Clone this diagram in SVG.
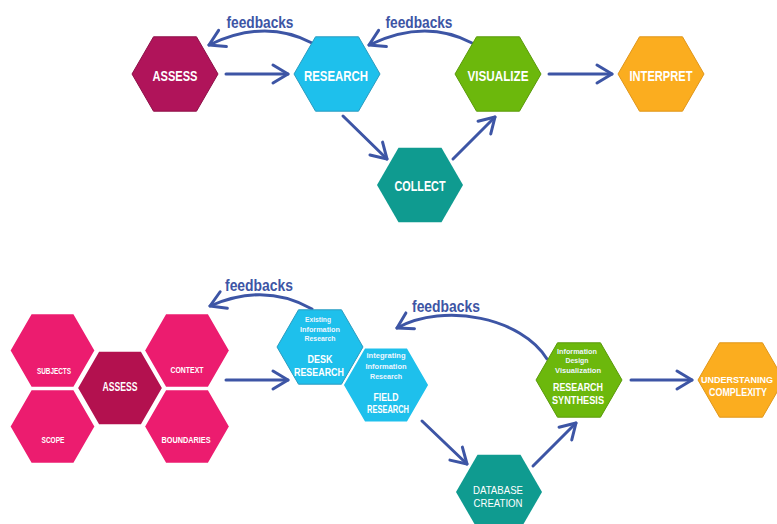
<svg xmlns="http://www.w3.org/2000/svg" xmlns:xlink="http://www.w3.org/1999/xlink" width="777" height="524" viewBox="0 0 777 524">
<style>
.lbl{font-family:"Liberation Sans",Arial,sans-serif;font-weight:bold;fill:#ffffff;text-anchor:middle}
.big{font-size:15px}
.mid{font-size:11.5px}
.sm{font-size:8.5px}
.tiny{font-size:8px;font-weight:bold;fill:#eef6ff}
.fb{font-family:"Liberation Sans",Arial,sans-serif;font-size:17px;font-weight:bold;fill:#3d55a5;text-anchor:middle}
.conn{fill:none;stroke:#3d55a5;stroke-width:3;stroke-linecap:round}
</style>
<defs>
<path id="hex" d="M-43,0 L-21.5,-37.2 L21.5,-37.2 L43,0 L21.5,37.2 L-21.5,37.2 Z"/>
<marker id="ah" markerUnits="userSpaceOnUse" viewBox="-20 -12 24 24" markerWidth="24" markerHeight="24" refX="0" refY="0" orient="auto">
<path d="M-15,-9 L0,0 L-15,9" fill="none" stroke="#3d55a5" stroke-width="3" stroke-linecap="round" stroke-linejoin="round"/>
</marker>
</defs>
<rect width="777" height="524" fill="#ffffff"/>

<g id="connectors">
<path class="conn" marker-end="url(#ah)" d="M226,74 L288,74"/>
<path class="conn" marker-end="url(#ah)" d="M312,43 Q265,18 209,45"/>
<path class="conn" marker-end="url(#ah)" d="M472,43 Q425,18 369,45"/>
<path class="conn" marker-end="url(#ah)" d="M343,116 L387,159"/>
<path class="conn" marker-end="url(#ah)" d="M453,159 L495,117"/>
<path class="conn" marker-end="url(#ah)" d="M549,74 L612,74"/>
<path class="conn" marker-end="url(#ah)" d="M226,380 L288,380"/>
<path class="conn" marker-end="url(#ah)" d="M312,309 Q265,282 210,306"/>
<path class="conn" marker-end="url(#ah)" d="M547,359 C522,318 445,302 397,328"/>
<path class="conn" marker-end="url(#ah)" d="M422,421 L467,464"/>
<path class="conn" marker-end="url(#ah)" d="M533,466 L576,423"/>
<path class="conn" marker-end="url(#ah)" d="M631,380 L692,380"/>
<text class="fb" x="260" y="28" textLength="67" lengthAdjust="spacingAndGlyphs">feedbacks</text>
<text class="fb" x="419" y="28" textLength="67" lengthAdjust="spacingAndGlyphs">feedbacks</text>
<text class="fb" x="259" y="291" textLength="68" lengthAdjust="spacingAndGlyphs">feedbacks</text>
<text class="fb" x="446" y="312" textLength="68" lengthAdjust="spacingAndGlyphs">feedbacks</text>
</g>

<g id="assess-top">
<use xlink:href="#hex" transform="translate(175,74)" fill="#b0145a" stroke="#8e1048" stroke-width="1"/>
<text class="lbl big" x="175" y="81" textLength="45" lengthAdjust="spacingAndGlyphs">ASSESS</text>
</g>
<g id="research-top">
<use xlink:href="#hex" transform="translate(337,74)" fill="#1ec0ec" stroke="#2a9cc0" stroke-width="1"/>
<text class="lbl big" x="336" y="81" textLength="64" lengthAdjust="spacingAndGlyphs">RESEARCH</text>
</g>
<g id="visualize-top">
<use xlink:href="#hex" transform="translate(498,74)" fill="#6cb80c" stroke="#5a9a0a" stroke-width="1"/>
<text class="lbl big" x="498" y="81" textLength="61" lengthAdjust="spacingAndGlyphs">VISUALIZE</text>
</g>
<g id="interpret-top">
<use xlink:href="#hex" transform="translate(661,74)" fill="#fbad1f" stroke="#e0961a" stroke-width="1"/>
<text class="lbl big" x="661" y="81" textLength="63" lengthAdjust="spacingAndGlyphs">INTERPRET</text>
</g>
<g id="collect-top">
<use xlink:href="#hex" transform="translate(420,185)" fill="#0f9b90"/>
<text class="lbl big" x="420" y="191" textLength="51" lengthAdjust="spacingAndGlyphs">COLLECT</text>
</g>

<g id="subjects">
<use xlink:href="#hex" transform="translate(52.5,350.5)" fill="#ec1c6f" stroke="#ffffff" stroke-width="2"/>
<text class="lbl sm" x="54" y="374" textLength="34" lengthAdjust="spacingAndGlyphs">SUBJECTS</text>
</g>
<g id="scope">
<use xlink:href="#hex" transform="translate(52.5,426.5)" fill="#ec1c6f" stroke="#ffffff" stroke-width="2"/>
<text class="lbl sm" x="53" y="443" textLength="23" lengthAdjust="spacingAndGlyphs">SCOPE</text>
</g>
<g id="context">
<use xlink:href="#hex" transform="translate(187,350.5)" fill="#ec1c6f" stroke="#ffffff" stroke-width="2"/>
<text class="lbl sm" x="187" y="373" textLength="33" lengthAdjust="spacingAndGlyphs">CONTEXT</text>
</g>
<g id="boundaries">
<use xlink:href="#hex" transform="translate(187,426.5)" fill="#ec1c6f" stroke="#ffffff" stroke-width="2"/>
<text class="lbl sm" x="186" y="443" textLength="49" lengthAdjust="spacingAndGlyphs">BOUNDARIES</text>
</g>
<g id="assess-bottom">
<use xlink:href="#hex" transform="translate(120,388)" fill="#b3114f" stroke="#ffffff" stroke-width="2"/>
<text class="lbl" style="font-size:12px" x="120" y="391" textLength="35" lengthAdjust="spacingAndGlyphs">ASSESS</text>
</g>

<g id="desk-research">
<use xlink:href="#hex" transform="translate(320,347)" fill="#1ec0ec" stroke="#2a9cc0" stroke-width="1"/>
<text class="lbl tiny" x="318" y="322" textLength="26" lengthAdjust="spacingAndGlyphs">Existing</text>
<text class="lbl tiny" x="320" y="332" textLength="40" lengthAdjust="spacingAndGlyphs">Information</text>
<text class="lbl tiny" x="320" y="341" textLength="31" lengthAdjust="spacingAndGlyphs">Research</text>
<text class="lbl mid" x="320" y="363" textLength="25" lengthAdjust="spacingAndGlyphs">DESK</text>
<text class="lbl mid" x="319" y="376" textLength="50" lengthAdjust="spacingAndGlyphs">RESEARCH</text>
</g>
<g id="field-research">
<use xlink:href="#hex" transform="translate(386,385)" fill="#1ec0ec" stroke="#ffffff" stroke-width="1.5"/>
<text class="lbl tiny" x="386" y="358" textLength="39" lengthAdjust="spacingAndGlyphs">integrating</text>
<text class="lbl tiny" x="386" y="369" textLength="41" lengthAdjust="spacingAndGlyphs">Information</text>
<text class="lbl tiny" x="386" y="379" textLength="32" lengthAdjust="spacingAndGlyphs">Research</text>
<text class="lbl mid" x="386" y="401" textLength="25" lengthAdjust="spacingAndGlyphs">FIELD</text>
<text class="lbl mid" x="388" y="413" textLength="42" lengthAdjust="spacingAndGlyphs">RESEARCH</text>
</g>

<g id="database-creation">
<use xlink:href="#hex" transform="translate(499,492)" fill="#0f9b90"/>
<text class="lbl mid" style="font-weight:normal" x="498" y="494" textLength="50" lengthAdjust="spacingAndGlyphs">DATABASE</text>
<text class="lbl mid" style="font-weight:normal" x="498" y="507" textLength="49" lengthAdjust="spacingAndGlyphs">CREATION</text>
</g>

<g id="research-synthesis">
<use xlink:href="#hex" transform="translate(579,380)" fill="#6cb80c" stroke="#5a9a0a" stroke-width="1"/>
<text class="lbl tiny" x="577" y="354" textLength="40" lengthAdjust="spacingAndGlyphs">Information</text>
<text class="lbl tiny" x="577" y="363" textLength="23" lengthAdjust="spacingAndGlyphs">Design</text>
<text class="lbl tiny" x="578" y="373" textLength="46" lengthAdjust="spacingAndGlyphs">Visualization</text>
<text class="lbl mid" x="578" y="391" textLength="50" lengthAdjust="spacingAndGlyphs">RESEARCH</text>
<text class="lbl mid" x="578" y="404" textLength="52" lengthAdjust="spacingAndGlyphs">SYNTHESIS</text>
</g>

<g id="understanding-complexity">
<use xlink:href="#hex" transform="translate(741,380)" fill="#fbad1f" stroke="#e0961a" stroke-width="1"/>
<text class="lbl" style="font-size:9px" x="737" y="383" textLength="72" lengthAdjust="spacingAndGlyphs">UNDERSTANING</text>
<text class="lbl" style="font-size:10px" x="738" y="396" textLength="58" lengthAdjust="spacingAndGlyphs">COMPLEXITY</text>
</g>
</svg>
